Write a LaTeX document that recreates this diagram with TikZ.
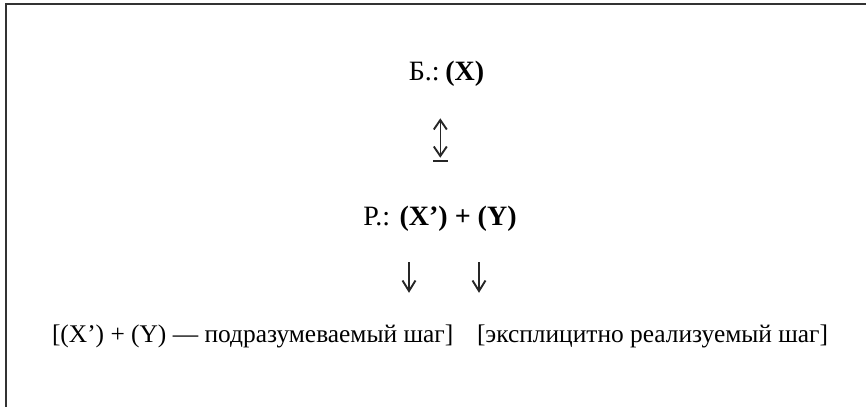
\documentclass[tikz,border=0pt]{standalone}
\usepackage{fontspec}
\setmainfont{Liberation Serif}
\begin{document}
\begin{tikzpicture}[x=1pt,y=-1pt,
  txt/.style={inner sep=0pt, outer sep=0pt, font=\fontsize{28}{30}\selectfont},
  small/.style={inner sep=0pt, outer sep=0pt, font=\fontsize{25.4}{28}\selectfont},
  arrline/.style={draw=black!85, line width=1.5pt},
  headline/.style={draw=black!85, line width=1.9pt, line join=miter, line cap=butt},
  frame/.style={draw=black!80, line width=1.3pt}]
\useasboundingbox (0,0) rectangle (866,407);
\coordinate (tl) at (6,4);
\coordinate (tr) at (866,4);
\coordinate (bl) at (6,407);
\draw[frame] (tr) -- (tl) -- (bl);
\node[txt, anchor=base] (b) at (446.5,80) {Б.:\hspace{0.2em}\textbf{(X)}};
\node[txt, anchor=base] (r) at (440,225) {Р.: \textbf{(X’) + (Y)}};
% double arrow with base
\coordinate (udt) at (440.3,120);
\coordinate (udb) at (440.3,156);
\coordinate (bas1) at (433,161);
\coordinate (bas2) at (447.6,161);
\draw[arrline] (udt) -- (udb);
\draw[headline] (udt) ++(-6.5,9.5) -- (udt) -- ++(6.5,9.5);
\draw[headline] (udb) ++(-6.5,-9.5) -- (udb) -- ++(6.5,-9.5);
\draw[arrline] (bas1) -- (bas2);
% down arrows
\coordinate (d1t) at (409,262);
\coordinate (d1b) at (409,291);
\coordinate (d2t) at (479,262);
\coordinate (d2b) at (479,291);
\draw[arrline] (d1t) -- (d1b);
\draw[arrline] (d2t) -- (d2b);
\draw[headline] (d1b) ++(-6.5,-10.5) -- (d1b) -- ++(6.5,-10.5);
\draw[headline] (d2b) ++(-6.5,-10.5) -- (d2b) -- ++(6.5,-10.5);
\node[small, anchor=base west] (l1) at (52,342) {[(X’) + (Y) — подразумеваемый шаг]};
\node[small, anchor=base west] (l2) at (477,342) {[эксплицитно реализуемый шаг]};
\end{tikzpicture}
\end{document}
